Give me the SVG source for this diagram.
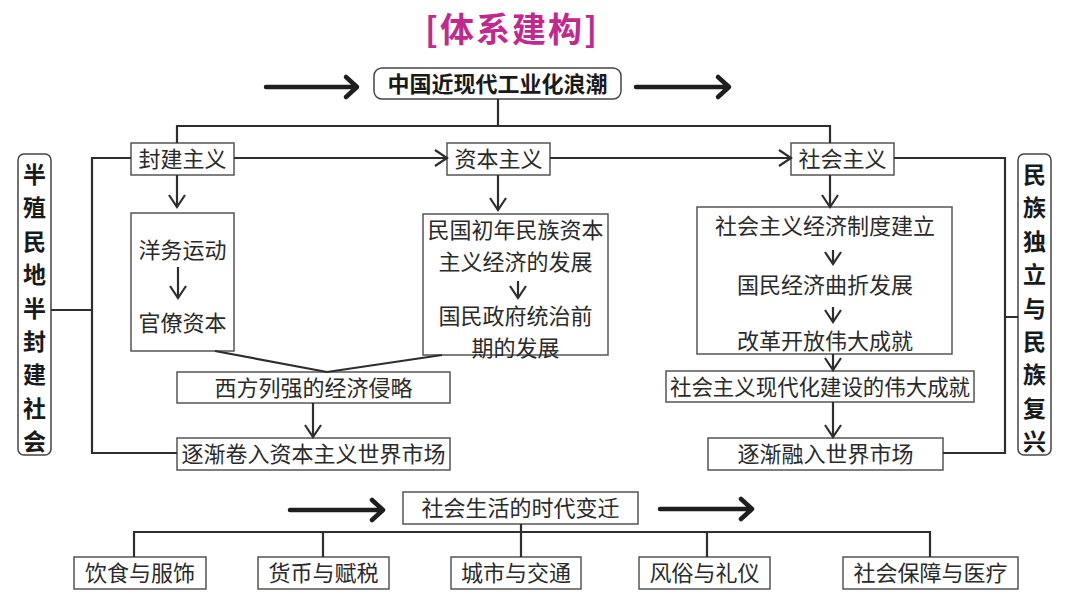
<svg xmlns="http://www.w3.org/2000/svg" width="1080" height="608" viewBox="0 0 1080 608">
<defs>
<style>
text{font-family:"Noto Sans CJK SC","Noto Sans",sans-serif;fill:#2a2a2a;text-anchor:middle}
.t{font-size:22px}
.b{font-weight:bold;fill:#1a1a1a}
.box{fill:#fff;stroke:#555;stroke-width:1.5}
.ln{fill:none;stroke:#2e2e2e;stroke-width:2.2}
.thick{fill:none;stroke:#1e1e1e;stroke-width:4.5;stroke-linecap:round;stroke-linejoin:round}
</style>
<marker id="ah" markerUnits="userSpaceOnUse" markerWidth="16" markerHeight="20" refX="12" refY="8" orient="auto" overflow="visible">
<path d="M0,0 L12,8 L0,16" fill="none" stroke="#2e2e2e" stroke-width="2.2"/>
</marker>
</defs>
<rect width="1080" height="608" fill="#fff"/>
<text x="511" y="42" style="font-size:34px;font-weight:bold;fill:#c2298e" textLength="172" lengthAdjust="spacing">[体系建构]</text>

<g id="n-top">
<rect class="box" x="374" y="68" width="247" height="31" rx="8" style="stroke:#444"/>
<text class="t b" x="497.5" y="92">中国近现代工业化浪潮</text>
</g>
<g id="n-fengjian">
<rect class="box" x="131" y="143" width="103" height="32"/>
<text class="t" x="182.5" y="167">封建主义</text>
</g>
<g id="n-ziben">
<rect class="box" x="447" y="143" width="103" height="32"/>
<text class="t" x="498.5" y="167">资本主义</text>
</g>
<g id="n-shehui">
<rect class="box" x="791" y="143" width="103" height="32"/>
<text class="t" x="842.5" y="167">社会主义</text>
</g>
<g id="n-left">
<rect class="box" x="18" y="154" width="33" height="301" rx="6" style="stroke:#444"/>
<text class="b" style="font-size:23px">
<tspan x="34.5" y="183">半</tspan><tspan x="34.5" y="216.4">殖</tspan><tspan x="34.5" y="249.8">民</tspan><tspan x="34.5" y="283.2">地</tspan><tspan x="34.5" y="316.6">半</tspan><tspan x="34.5" y="350">封</tspan><tspan x="34.5" y="383.4">建</tspan><tspan x="34.5" y="416.8">社</tspan><tspan x="34.5" y="450.2">会</tspan>
</text>
</g>
<g id="n-right">
<rect class="box" x="1018" y="154" width="33" height="301" rx="6" style="stroke:#444"/>
<text class="b" style="font-size:23px">
<tspan x="1034.5" y="183">民</tspan><tspan x="1034.5" y="216.4">族</tspan><tspan x="1034.5" y="249.8">独</tspan><tspan x="1034.5" y="283.2">立</tspan><tspan x="1034.5" y="316.6">与</tspan><tspan x="1034.5" y="350">民</tspan><tspan x="1034.5" y="383.4">族</tspan><tspan x="1034.5" y="416.8">复</tspan><tspan x="1034.5" y="450.2">兴</tspan>
</text>
</g>
<g id="n-yangwu">
<rect class="box" x="131" y="213" width="103" height="138"/>
<text class="t" x="182.5" y="258">洋务运动</text>
<text class="t" x="182.5" y="331">官僚资本</text>
</g>
<g id="n-minguo">
<rect class="box" x="423" y="214" width="185" height="141"/>
<text class="t" x="515.5" y="238">民国初年民族资本</text>
<text class="t" x="515.5" y="270">主义经济的发展</text>
<text class="t" x="515.5" y="324">国民政府统治前</text>
<text class="t" x="515.5" y="356">期的发展</text>
</g>
<g id="n-xifang">
<rect class="box" x="177" y="372" width="273" height="31"/>
<text class="t" x="313.5" y="396">西方列强的经济侵略</text>
</g>
<g id="n-juanru">
<rect class="box" x="177" y="438" width="273" height="32"/>
<text class="t" x="313.5" y="462">逐渐卷入资本主义世界市场</text>
</g>
<g id="n-shzy">
<rect class="box" x="697" y="207" width="255" height="147"/>
<text class="t" x="825" y="234">社会主义经济制度建立</text>
<text class="t" x="825" y="293">国民经济曲折发展</text>
<text class="t" x="825" y="349">改革开放伟大成就</text>
</g>
<g id="n-xiandaihua">
<rect class="box" x="666" y="371" width="308" height="31"/>
<text class="t" x="820" y="395" textLength="300" lengthAdjust="spacingAndGlyphs">社会主义现代化建设的伟大成就</text>
</g>
<g id="n-rongru">
<rect class="box" x="708" y="438" width="235" height="32"/>
<text class="t" x="825.5" y="462">逐渐融入世界市场</text>
</g>
<g id="n-shenghuo">
<rect class="box" x="403" y="492" width="235" height="32"/>
<text class="t" x="520.5" y="516">社会生活的时代变迁</text>
</g>
<g id="n-yinshi">
<rect class="box" x="74" y="557" width="132" height="32"/>
<text class="t" x="140" y="581">饮食与服饰</text>
</g>
<g id="n-huobi">
<rect class="box" x="258" y="557" width="131" height="32"/>
<text class="t" x="323.5" y="581">货币与赋税</text>
</g>
<g id="n-chengshi">
<rect class="box" x="451" y="557" width="130" height="32"/>
<text class="t" x="516" y="581">城市与交通</text>
</g>
<g id="n-fengsu">
<rect class="box" x="639" y="557" width="131" height="32"/>
<text class="t" x="704.5" y="581">风俗与礼仪</text>
</g>
<g id="n-baozhang">
<rect class="box" x="843" y="557" width="175" height="32"/>
<text class="t" x="930.5" y="581">社会保障与医疗</text>
</g>

<g id="connectors">
<path class="thick" d="M266,87 H357 M346,77 L357,87 L346,97"/>
<path class="thick" d="M636,87 H729 M718,77 L729,87 L718,97"/>
<path class="thick" d="M290,510 H383 M372,500 L383,510 L372,520"/>
<path class="thick" d="M660,509 H752 M741,499 L752,509 L741,519"/>
<path class="ln" d="M498,99 V126 M177,143 V126 H830 V143"/>
<path class="ln" d="M234,158 H447" marker-end="url(#ah)"/>
<path class="ln" d="M550,158 H791" marker-end="url(#ah)"/>
<path class="ln" d="M894,158 H1005 V453 H943 M1005,317 H1018"/>
<path class="ln" d="M131,158 H92 V453 H177 M51,310 H92"/>
<path class="ln" d="M177,175 V207" marker-end="url(#ah)"/>
<path class="ln" d="M178,267 V298" marker-end="url(#ah)"/>
<path class="ln" d="M498,175 V210" marker-end="url(#ah)"/>
<path class="ln" d="M518,281 V298" marker-end="url(#ah)"/>
<path class="ln" d="M215,351 L327,372 M442,355 L327,372"/>
<path class="ln" d="M313,403 V437" marker-end="url(#ah)"/>
<path class="ln" d="M830,175 V207" marker-end="url(#ah)"/>
<path class="ln" d="M833,250 V264" marker-end="url(#ah)"/>
<path class="ln" d="M833,307 V322" marker-end="url(#ah)"/>
<path class="ln" d="M833,354 V370" marker-end="url(#ah)"/>
<path class="ln" d="M833,402 V437" marker-end="url(#ah)"/>
<path class="ln" d="M521,524 V532 M134,557 V532 H930 V557 M323,532 V557 M521,532 V557 M707,532 V557"/>
</g>
</svg>
